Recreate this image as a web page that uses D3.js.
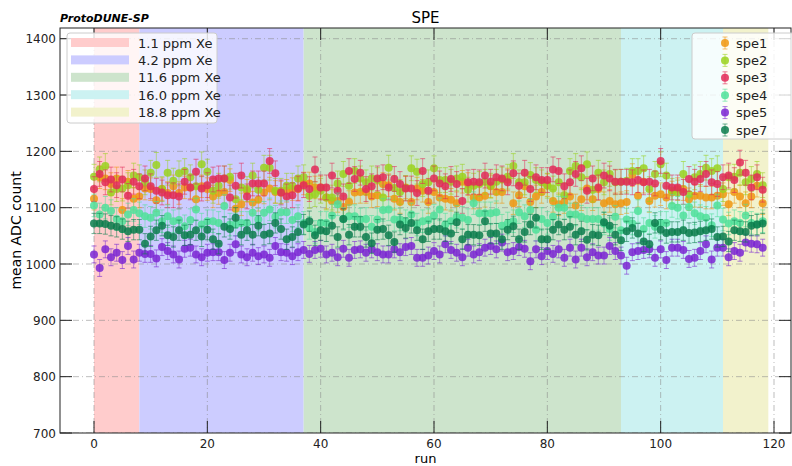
<!DOCTYPE html>
<html><head><meta charset="utf-8">
<script src="https://cdn.jsdelivr.net/npm/d3@7"></script>
<style>body{margin:0;background:#fff;} text{font-family:"DejaVu Sans",sans-serif;}</style>
</head><body><svg id="c" width="792" height="466"></svg>
<script>
const seriesNames = ["spe1","spe2","spe3","spe4","spe5","spe7"];
const seriesColors = ["#f0960f","#9ad21e","#e22a58","#4fe09a","#7a24d2","#0a7d4c"];
const seriesErr = [20,22,22,20,15,18];
const spe1 = [1116,1154,1152,1142,1152,1096,1146,1116,1120,
1134,1133,1113,1133,1126,1138,1126,1136,1136,1115,1138,1133,1120,1126,1128,1149,1098,1106,1130,1109,1114,1127,1134,1128,1127,1130,1133,1133,1143,1143,1136,1136,
1118,1112,1112,1101,1110,1127,1128,1128,1120,1122,1142,1140,1116,1110,1136,1110,1134,1130,1110,1128,1118,1116,1114,1108,1146,1142,1118,1118,1121,1138,1128,1128,1150,1108,1122,1138,1110,1120,1128,1140,1112,1106,
1110,1120,1104,1115,1134,1115,1133,1108,1112,1106,1108,1110,1158,1121,1146,1112,1121,1124,1118,1127,1133,1133,1115,1121,1121,1118,1118,1121,1124,1106,1128,1120,1108,1120,1139,1108];
const spe2 = [1155,1168,1174,1127,1133,1134,1140,1157,1154,
1145,1162,1176,1133,1162,1148,1161,1165,1154,1138,1177,1164,1130,1139,1152,1155,1115,1136,1133,1157,1132,1171,1171,1130,1130,1139,1139,1152,1154,1121,1124,1130,
1118,1118,1143,1160,1139,1165,1152,1145,1152,1149,1118,1171,1135,1128,1135,1170,1164,1142,1145,1170,1149,1149,1146,1152,1155,1132,1139,1142,1146,1139,1146,1150,1155,1174,1145,1145,1158,1149,1145,1139,1134,1145,
1122,1165,1174,1154,1177,1132,1162,1145,1160,1145,1146,1148,1165,1165,1170,1133,1160,1177,1157,1130,1127,1160,1124,1154,1160,1171,1165,1170,1133,1154,1155,1162,1145,1151,1160,1140];
const spe3 = [1133,1160,1145,1150,1140,1150,1121,1146,1138,
1152,1138,1130,1127,1122,1122,1120,1146,1136,1164,1134,1140,1150,1152,1152,1118,1139,1157,1120,1143,1143,1143,1183,1161,1127,1120,1122,1134,1140,1133,1168,1136,
1136,1157,1130,1120,1165,1151,1162,1133,1138,1152,1154,1136,1151,1142,1134,1134,1126,1165,1130,1152,1143,1138,1151,1142,1112,1145,1146,1145,1157,1146,1154,1152,1145,1161,1139,1162,1133,1154,1149,1149,1168,1165,
1138,1145,1160,1170,1130,1152,1136,1157,1152,1146,1146,1146,1145,1149,1145,1146,1143,1183,1139,1136,1136,1128,1151,1146,1151,1160,1145,1142,1154,1157,1149,1180,1162,1136,1154,1132];
const spe4 = [1104,1088,1100,1094,1080,1076,1088,1096,1090,
1085,1082,1091,1076,1085,1076,1078,1067,1078,1097,1070,1076,1076,1073,1103,1070,1070,1073,1073,1091,1079,1091,1097,1084,1092,1092,1078,1085,1073,1064,1057,1073,
1073,1086,1106,1080,1085,1085,1079,1080,1066,1079,1096,1097,1079,1079,1076,1088,1070,1076,1078,1086,1097,1070,1076,1084,1082,1078,1108,1090,1090,1090,1092,1068,1072,1076,1092,1085,1096,1061,1080,1073,1084,1100,
1100,1088,1088,1084,1080,1080,1080,1072,1062,1084,1060,1079,1072,1094,1062,1073,1066,1073,1073,1103,1100,1086,1101,1090,1085,1082,1069,1104,1079,1072,1076,1073,1086,1073,1070,1076];
const spe5 = [1017,993,1026,1012,1020,1007,1032,1008,1020,
1018,1018,1010,1030,1023,1017,1008,1027,1029,1017,1012,1020,1021,1021,1007,1020,1035,1017,1012,1020,1014,1017,1011,1032,1021,1020,1014,1021,1025,1018,1025,1027,
1017,1020,1012,1027,1011,1025,1026,1020,1026,1021,1017,1017,1026,1021,1030,1032,1011,1011,1015,1023,1017,1035,1025,1020,1012,1029,1017,1021,1029,1032,1026,1038,1021,1023,1030,1027,1005,1026,1014,1023,1018,1026,
1011,1029,1008,1029,1012,1021,1015,1015,1032,1023,1015,997,1021,1023,1025,1026,1011,1026,1007,1029,1029,1025,1009,1011,1023,1035,1008,1029,1029,1012,1023,1020,1038,1036,1035,1029];
const spe7 = [1072,1072,1071,1068,1066,1062,1058,1061,1061,
1036,1049,1060,1068,1051,1048,1060,1051,1052,1060,1049,1061,1044,1036,1066,1062,1082,1052,1060,1052,1068,1052,1054,1073,1062,1044,1048,1057,1070,1076,1051,1060,
1058,1068,1048,1080,1052,1066,1066,1048,1037,1061,1062,1051,1039,1070,1064,1073,1060,1044,1058,1062,1062,1058,1054,1074,1044,1052,1052,1051,1076,1054,1054,1044,1061,1067,1044,1057,1070,1082,1044,1044,1061,1070,
1061,1066,1052,1058,1043,1052,1051,1074,1068,1052,1042,1058,1064,1054,1040,1035,1073,1061,1055,1057,1057,1060,1055,1056,1058,1060,1062,1048,1049,1040,1060,1058,1057,1068,1070,1072];
const seriesValues = [spe1,spe2,spe3,spe4,spe5,spe7];

const bandLabels = ["1.1 ppm Xe","4.2 ppm Xe","11.6 ppm Xe","16.0 ppm Xe","18.8 ppm Xe"];
const bandStart = [0,8,37,93,111];
const bandEnd = [8,37,93,111,119];
const bandColors = ["#ffcccc","#ccccff","#cde4cc","#ccf2f2","#f2f2cc"];
const xTicks = [0,20,40,60,80,100,120];
const yTicks = [700,800,900,1000,1100,1200,1300,1400];

const svg = d3.select("#c");
const L=60,R=791,T=28,B=433;
const x = d3.scaleLinear().domain([-6,123]).range([L,R]);
const y = d3.scaleLinear().domain([700,1419]).range([B,T]);

svg.append("defs").append("clipPath").attr("id","clip").append("rect")
  .attr("x",L).attr("y",T).attr("width",R-L).attr("height",B-T);
const plot = svg.append("g").attr("clip-path","url(#clip)");

plot.selectAll("rect.band").data(bandLabels).join("rect")
  .attr("x",(d,i)=>x(bandStart[i])).attr("width",(d,i)=>x(bandEnd[i])-x(bandStart[i]))
  .attr("y",T).attr("height",B-T).attr("fill",(d,i)=>bandColors[i]);

plot.append("g").selectAll("line").data(xTicks).join("line")
  .attr("x1",d=>x(d)).attr("x2",d=>x(d)).attr("y1",T).attr("y2",B)
  .attr("stroke","#888").attr("stroke-opacity",0.7).attr("stroke-dasharray","6,3,1,3").attr("stroke-width",0.8);
plot.append("g").selectAll("line").data(yTicks).join("line")
  .attr("y1",d=>y(d)).attr("y2",d=>y(d)).attr("x1",L).attr("x2",R)
  .attr("stroke","#888").attr("stroke-opacity",0.7).attr("stroke-dasharray","6,3,1,3").attr("stroke-width",0.8);

seriesValues.forEach((vals,si)=>{
  const g = plot.append("g");
  const col = seriesColors[si], e = seriesErr[si];
  const pts = vals.map((v,i)=>({run:i,v:v}));
  g.selectAll("line.eb").data(pts).join("line")
    .attr("x1",d=>x(d.run)).attr("x2",d=>x(d.run)).attr("y1",d=>y(d.v-e)).attr("y2",d=>y(d.v+e))
    .attr("stroke",col).attr("stroke-opacity",0.5).attr("stroke-width",1);
  [-1,1].forEach(s=>{
    g.selectAll("line.cap"+s).data(pts).join("line")
      .attr("x1",d=>x(d.run)-2.5).attr("x2",d=>x(d.run)+2.5).attr("y1",d=>y(d.v+s*e)).attr("y2",d=>y(d.v+s*e))
      .attr("stroke",col).attr("stroke-opacity",0.6).attr("stroke-width",1);
  });
  g.selectAll("circle").data(pts).join("circle")
    .attr("cx",d=>x(d.run)).attr("cy",d=>y(d.v)).attr("r",4)
    .attr("fill",col).attr("fill-opacity",0.85);
});

svg.append("rect").attr("x",L).attr("y",T).attr("width",R-L).attr("height",B-T)
  .attr("fill","none").attr("stroke","#222").attr("stroke-width",1);

const tl = 12;
const tk = svg.append("g").attr("stroke","#222").attr("stroke-width",1);
xTicks.forEach(t=>{
  tk.append("line").attr("x1",x(t)).attr("x2",x(t)).attr("y1",B).attr("y2",B-tl);
  tk.append("line").attr("x1",x(t)).attr("x2",x(t)).attr("y1",T).attr("y2",T+tl);
});
yTicks.forEach(t=>{
  tk.append("line").attr("x1",L).attr("x2",L+tl).attr("y1",y(t)).attr("y2",y(t));
  tk.append("line").attr("x1",R).attr("x2",R-tl).attr("y1",y(t)).attr("y2",y(t));
});
svg.append("g").selectAll("text").data(xTicks).join("text")
  .attr("x",d=>x(d)).attr("y",B+15).attr("text-anchor","middle").attr("font-size",12).attr("fill","#222").text(d=>d);
svg.append("g").selectAll("text").data(yTicks).join("text")
  .attr("x",L-4).attr("y",d=>y(d)+4.5).attr("text-anchor","end").attr("font-size",12).attr("fill","#222").text(d=>d);

svg.append("text").attr("x",(L+R)/2).attr("y",463).attr("text-anchor","middle").attr("font-size",13).text("run");
svg.append("text").attr("transform",`translate(21,${(T+B)/2}) rotate(-90)`).attr("text-anchor","middle").attr("font-size",14).text("mean ADC count");
svg.append("text").attr("x",(L+R)/2).attr("y",23).attr("text-anchor","middle").attr("font-size",15).text("SPE");
svg.append("text").attr("x",60).attr("y",22).attr("font-size",11).attr("font-weight","bold").attr("font-style","italic").text("ProtoDUNE-SP");

const lg = svg.append("g");
lg.append("rect").attr("x",67).attr("y",33).attr("width",150).attr("height",90).attr("rx",3)
  .attr("fill","#fff").attr("fill-opacity",0.8).attr("stroke","#ccc");
bandLabels.forEach((lab,i)=>{
  const yy = 43 + i*17.4;
  lg.append("rect").attr("x",71).attr("y",yy-5).attr("width",58).attr("height",9).attr("fill",bandColors[i]);
  lg.append("text").attr("x",138).attr("y",yy+4.5).attr("font-size",13).attr("fill","#222").text(lab);
});
const rg = svg.append("g");
rg.append("rect").attr("x",692).attr("y",33).attr("width",104).attr("height",106).attr("rx",3)
  .attr("fill","#fff").attr("fill-opacity",0.8).attr("stroke","#ccc");
seriesNames.forEach((nm,i)=>{
  const yy = 43 + i*17.4, col = seriesColors[i];
  rg.append("line").attr("x1",725).attr("x2",725).attr("y1",yy-6).attr("y2",yy+6).attr("stroke",col).attr("stroke-opacity",0.6);
  rg.append("line").attr("x1",722.5).attr("x2",727.5).attr("y1",yy-6).attr("y2",yy-6).attr("stroke",col).attr("stroke-opacity",0.6);
  rg.append("line").attr("x1",722.5).attr("x2",727.5).attr("y1",yy+6).attr("y2",yy+6).attr("stroke",col).attr("stroke-opacity",0.6);
  rg.append("circle").attr("cx",725).attr("cy",yy).attr("r",4).attr("fill",col).attr("fill-opacity",0.85);
  rg.append("text").attr("x",736).attr("y",yy+4.5).attr("font-size",13).attr("fill","#222").text(nm);
});
</script></body></html>
